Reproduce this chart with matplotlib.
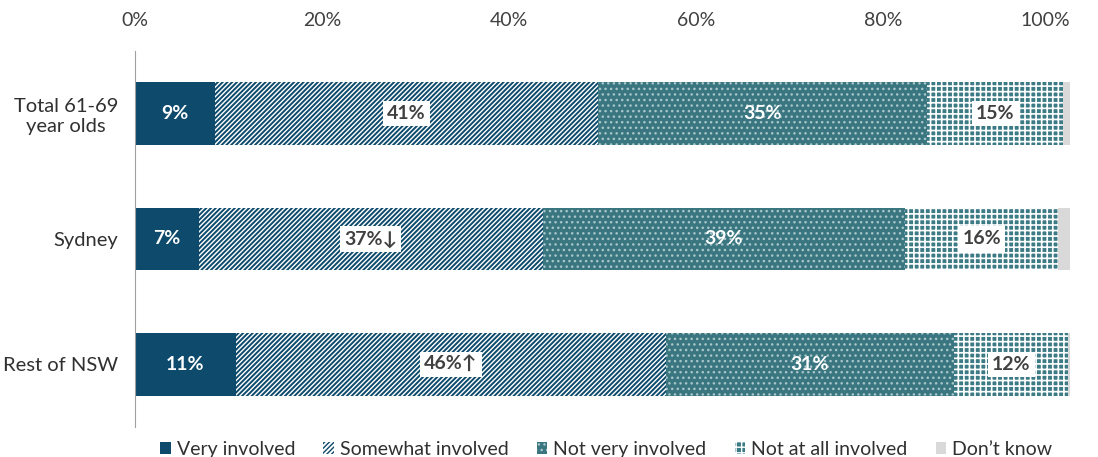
import numpy as np
import matplotlib
matplotlib.use("Agg")
import matplotlib.pyplot as plt
from matplotlib.patches import Patch

plt.rcParams["font.family"] = ["Lato", "DejaVu Sans"]

# 数据
groups = ["Total 61-69\nyear olds", "Sydney", "Rest of NSW"]
series = ["Very involved", "Somewhat involved", "Not very involved",
          "Not at all involved", "Don\u2019t know"]
very = [8.6, 6.8, 10.8]
somewhat = [40.9, 36.8, 46.0]
not_very = [35.2, 38.8, 30.8]
not_at_all = [14.6, 16.3, 12.2]
dont_know = [0.7, 1.3, 0.2]
labels_very = ["9%", "7%", "11%"]
labels_somewhat = ["41%", "37%\u2193", "46%\u2191"]
labels_not_very = ["35%", "39%", "31%"]
labels_not_at_all = ["15%", "16%", "12%"]
xticks = [0, 20, 40, 60, 80, 100]

DARK = "#0d4a6b"
TEAL = "#3a7680"
TEAL2 = "#3c7b86"
GREY = "#d9d9d9"

styles = [
    dict(facecolor=DARK, edgecolor=DARK, hatch=None, hlw=1.0, box=False),
    dict(facecolor="white", edgecolor=DARK, hatch="///////", hlw=1.4, box=True),
    dict(facecolor=TEAL, edgecolor="#a9c6ca", hatch="...", hlw=1.0, box=False),
    dict(facecolor=TEAL2, edgecolor="white", hatch="+++", hlw=1.2, box=True),
    dict(facecolor=GREY, edgecolor=GREY, hatch=None, hlw=1.0, box=False),
]
values = [very, somewhat, not_very, not_at_all, dont_know]
labels = [labels_very, labels_somewhat, labels_not_very, labels_not_at_all, None]

fig = plt.figure(figsize=(10.98, 4.57), dpi=100)
ax = fig.add_axes([135 / 1098, 1 - 427 / 457, 935 / 1098, 376 / 457])

y = np.arange(len(groups))
left = np.zeros(len(groups))
for vals, st, labs in zip(values, styles, labels):
    vals = np.array(vals)
    plt.rcParams["hatch.linewidth"] = st["hlw"]
    bars = ax.barh(y, vals, left=left, height=0.5, color=st["facecolor"],
                   edgecolor=st["edgecolor"], hatch=st["hatch"], linewidth=0)
    for b in bars:
        try:
            b.set_hatch_linewidth(st["hlw"])
        except AttributeError:
            pass
    if labs is not None:
        for yi, (l, v, t) in enumerate(zip(left, vals, labs)):
            if st["box"]:
                ax.text(l + v / 2, yi, t, ha="center", va="center", color="#404040",
                        fontsize=14, fontweight="bold",
                        bbox=dict(boxstyle="square,pad=0.22", fc="white", ec="none"))
            else:
                ax.text(l + v / 2, yi, t, ha="center", va="center", color="white",
                        fontsize=14, fontweight="bold")
    left = left + vals

ax.set_xlim(0, 100)
ax.set_ylim(2.5, -0.5)
ax.set_xticks(xticks)
ax.set_xticklabels([f"{t}%" for t in xticks])
ax.xaxis.tick_top()
ax.tick_params(axis="x", length=0, pad=16, labelsize=14, labelcolor="#404040")
ax.get_xticklabels()[-1].set_ha("right")
ax.set_yticks(y)
ax.set_yticklabels(groups)
ax.tick_params(axis="y", length=0, pad=12, labelsize=14.5, labelcolor="#303030")
for lab in ax.get_yticklabels():
    lab.set_multialignment("center")
for s in ["top", "right", "bottom"]:
    ax.spines[s].set_visible(False)
ax.spines["left"].set_color("#a0a0a0")

handles = []
for name, st in zip(series, styles):
    p = Patch(facecolor=st["facecolor"], edgecolor=st["edgecolor"],
              hatch=st["hatch"], linewidth=0, label=name)
    handles.append(p)
fig.legend(handles=handles, loc="lower center", ncol=5, frameon=False,
           bbox_to_anchor=(0.552, -0.04), fontsize=14, handlelength=0.55,
           handleheight=0.55, handletextpad=0.3, columnspacing=1.45,
           labelcolor="#303030")

fig.savefig("out.png", dpi=100)
